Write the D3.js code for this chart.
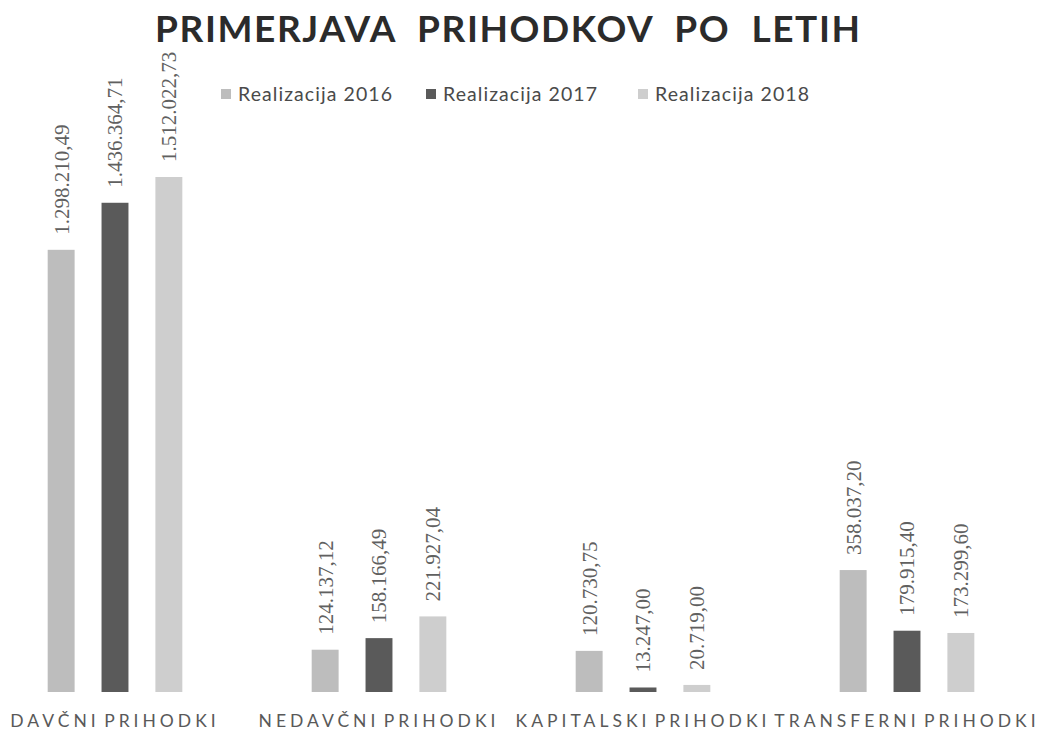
<!DOCTYPE html>
<html>
<head>
<meta charset="utf-8">
<script src="https://cdn.jsdelivr.net/npm/d3@7"></script>
<style>
  html, body { margin: 0; padding: 0; background: #fff; }
  svg { display: block; }
</style>
</head>
<body>
<div id="chart"></div>
<script>
// data
const categories = ["DAVČNI PRIHODKI", "NEDAVČNI PRIHODKI", "KAPITALSKI PRIHODKI", "TRANSFERNI PRIHODKI"];
const series = ["Realizacija 2016", "Realizacija 2017", "Realizacija 2018"];
const values2016 = [1298210.49, 124137.12, 120730.75, 358037.20];
const values2017 = [1436364.71, 158166.49, 13247.00, 179915.40];
const values2018 = [1512022.73, 221927.04, 20719.00, 173299.60];
const valueLabels2016 = ["1.298.210,49", "124.137,12", "120.730,75", "358.037,20"];
const valueLabels2017 = ["1.436.364,71", "158.166,49", "13.247,00", "179.915,40"];
const valueLabels2018 = ["1.512.022,73", "221.927,04", "20.719,00", "173.299,60"];

const seriesValues = [values2016, values2017, values2018];
const seriesLabels = [valueLabels2016, valueLabels2017, valueLabels2018];
const colors = ["#bdbdbd", "#5a5a5a", "#cecece"];

const width = 1040, height = 731;
const svg = d3.select("#chart").append("svg")
  .attr("width", width).attr("height", height);

const SANS = "Lato, 'Open Sans', sans-serif";
const SERIF = "'Liberation Serif', 'DejaVu Serif', serif";

// title
svg.append("text")
  .attr("x", 155).attr("y", 42)
  .attr("textLength", 705).attr("lengthAdjust", "spacing")
  .attr("fill", "#2b2b2b")
  .style("font-family", SANS).style("font-size", "37px").style("font-weight", "700")
  .style("white-space", "pre")
  .text("PRIMERJAVA  PRIHODKOV  PO  LETIH");

// legend
const legendX = [221, 426, 638];
series.forEach((s, i) => {
  svg.append("rect").attr("x", legendX[i]).attr("y", 89).attr("width", 10).attr("height", 10)
    .attr("fill", colors[i]);
  svg.append("text").attr("x", legendX[i] + 17).attr("y", 101)
    .attr("textLength", 154).attr("lengthAdjust", "spacing")
    .attr("fill", "#4a4a4a")
    .style("font-family", SANS).style("font-size", "19.5px")
    .text(s);
});

// scales
const x0 = d3.scaleBand().domain(categories).range([-17, 1039]).paddingInner(0.49).paddingOuter(0.245);
const x1 = d3.scaleBand().domain(d3.range(3)).range([0, x0.bandwidth()]).paddingInner(0.5).paddingOuter(0);
const y = d3.scaleLinear().domain([0, 1512022.73]).range([692, 177]);

const g = svg.append("g");

categories.forEach((c, ci) => {
  seriesValues.forEach((vals, si) => {
    const bx = x0(c) + x1(si);
    const v = vals[ci];
    g.append("rect")
      .attr("x", bx).attr("y", y(v))
      .attr("width", x1.bandwidth()).attr("height", y(0) - y(v))
      .attr("fill", colors[si]);
    const cx = bx + x1.bandwidth() / 2;
    const ty = y(v) - 15;
    g.append("text")
      .attr("transform", `translate(${cx},${ty}) rotate(-90)`)
      .attr("dy", "0.35em")
      .attr("fill", "#606060")
      .style("font-family", SERIF).style("font-size", "21px")
      .text(seriesLabels[si][ci]);
  });
  // category label
  g.append("text")
    .attr("x", x0(c) + x0.bandwidth() / 2).attr("y", 727)
    .attr("text-anchor", "middle")
    .attr("fill", "#595959")
    .style("font-family", SANS).style("font-size", "17.5px")
    .style("letter-spacing", "4px").style("word-spacing", "-4px")
    .text(c);
});
</script>
</body>
</html>
